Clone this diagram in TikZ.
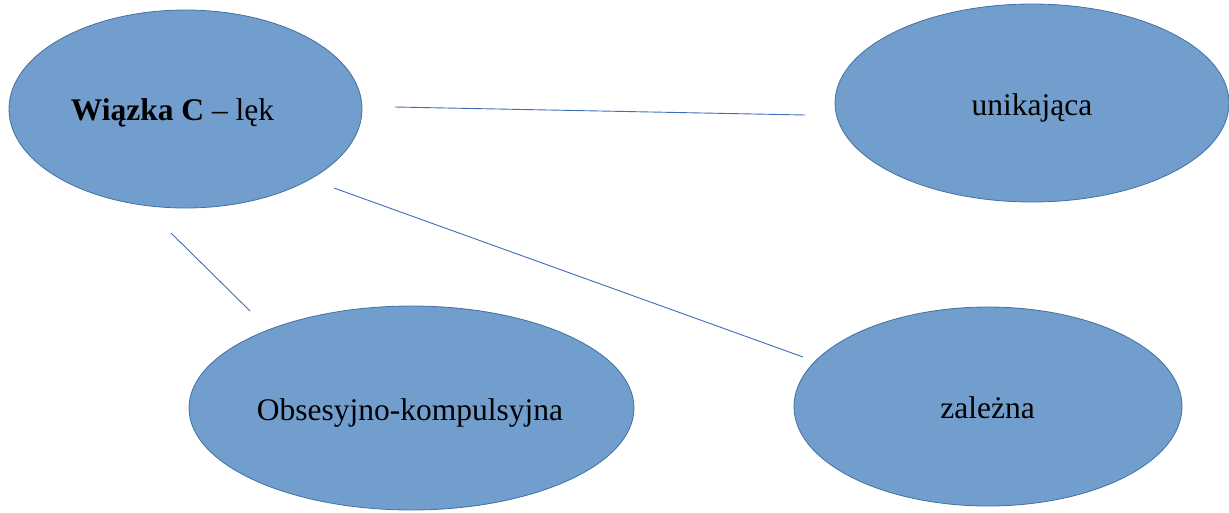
\documentclass[tikz,border=0pt]{standalone}
\usepackage{fontspec}
\setmainfont{Liberation Serif}
\usetikzlibrary{shapes.geometric}
\definecolor{ellfill}{RGB}{114,158,206}
\definecolor{ellline}{RGB}{65,113,160}
\definecolor{conn}{RGB}{60,110,185}
\begin{document}
\begin{tikzpicture}[x=1pt,y=-1pt,
  blob/.style={ellipse,fill=ellfill,draw=ellline,line width=0.8pt,inner sep=0pt},
  lbl/.style={anchor=base,font=\fontsize{31.5}{36}\selectfont,text=black,inner sep=0pt},
  conn/.style={draw=conn,line width=0.9pt}]
\useasboundingbox (0,0) rectangle (1229,512);
\node[blob,minimum width=353pt,minimum height=198pt] (c) at (185.5,109) {};
\node[blob,minimum width=394pt,minimum height=198pt] (u) at (1032,103) {};
\node[blob,minimum width=445pt,minimum height=204pt] (o) at (411.5,408) {};
\node[blob,minimum width=388pt,minimum height=199pt] (z) at (988,406.5) {};
\node[lbl] (tc) at (172.5,120) {\textbf{Wiązka C} – lęk};
\node[lbl] (tu) at (1032,115) {unikająca};
\node[lbl] (to) at (410,420) {Obsesyjno-kompulsyjna};
\node[lbl] (tz) at (987.5,418) {zależna};
\coordinate (a1) at (395,107);
\coordinate (a2) at (805,115);
\coordinate (b1) at (334,188);
\coordinate (b2) at (803,357);
\coordinate (d1) at (171,233);
\coordinate (d2) at (250,311);
\draw[conn] (a1) -- (a2);
\draw[conn] (b1) -- (b2);
\draw[conn] (d1) -- (d2);
\end{tikzpicture}
\end{document}
